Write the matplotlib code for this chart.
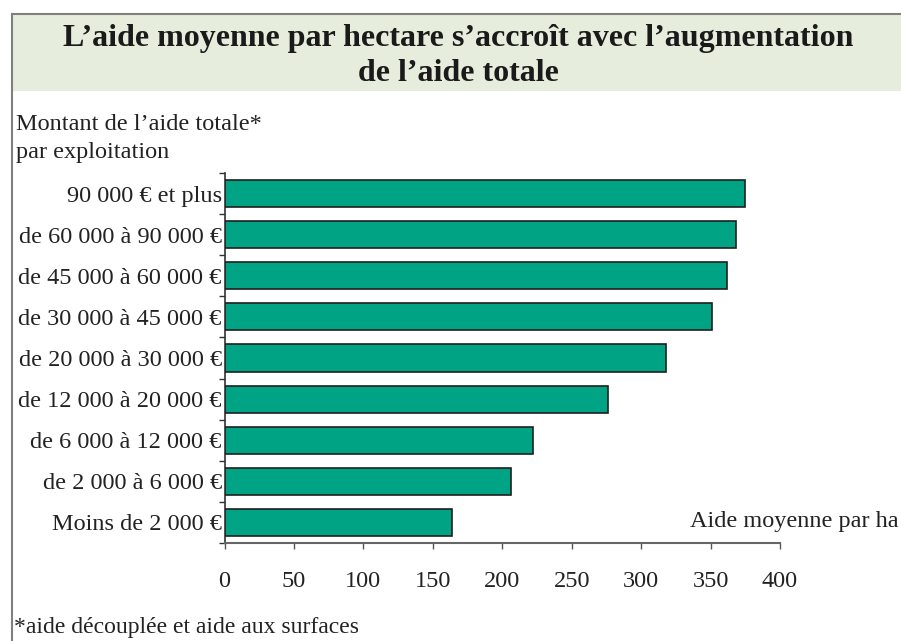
import matplotlib
matplotlib.use("Agg")
import matplotlib.pyplot as plt
from matplotlib.patches import Rectangle
from matplotlib.lines import Line2D

categories = [
    "90 000 € et plus",
    "de 60 000 à 90 000 €",
    "de 45 000 à 60 000 €",
    "de 30 000 à 45 000 €",
    "de 20 000 à 30 000 €",
    "de 12 000 à 20 000 €",
    "de 6 000 à 12 000 €",
    "de 2 000 à 6 000 €",
    "Moins de 2 000 €",
]
values = [375, 368, 362, 351, 318, 276, 222, 206, 164]
xticks = [0, 50, 100, 150, 200, 250, 300, 350, 400]

title = "L’aide moyenne par hectare s’accroît avec l’augmentation\nde l’aide totale"
ylabel_line1 = "Montant de l’aide totale*"
ylabel_line2 = "par exploitation"
xlabel_text = "Aide moyenne par ha"
footnote = "*aide découplée et aide aux surfaces"

plt.rcParams['font.family'] = ['Liberation Serif', 'DejaVu Serif']

W, H = 901, 641
fig = plt.figure(figsize=(W / 100, H / 100), dpi=100)
fig.patch.set_facecolor("white")

# Title box
fig.patches.append(Rectangle((12 / W, 1 - 91 / H), 1 - 12 / W, (91 - 14) / H,
                             transform=fig.transFigure, facecolor="#E6EDDC",
                             edgecolor="none", zorder=0))
fig.lines.append(Line2D([12 / W, 1], [1 - 14 / H, 1 - 14 / H], transform=fig.transFigure,
                        color="#808080", lw=1.5))
fig.lines.append(Line2D([12 / W, 12 / W], [0, 1 - 14 / H], transform=fig.transFigure,
                        color="#808080", lw=1.5))

fig.text(458 / W, 1 - 56 / H, title, ha="center", va="center", fontsize=23,
         fontweight="bold", color="#1a1a1a", linespacing=1.3)

TXT = 17.5
fig.text(16 / W, 1 - 124 / H, ylabel_line1, ha="left", va="center", fontsize=TXT,
         color="#222222")
fig.text(16 / W, 1 - 152 / H, ylabel_line2, ha="left", va="center", fontsize=TXT,
         color="#222222")
fig.text(14 / W, 1 - 627 / H, footnote, ha="left", va="center", fontsize=17,
         color="#222222")

left, right, top, bottom = 224.5, 780, 173, 543
ax = fig.add_axes([left / W, 1 - bottom / H, (right - left) / W, (bottom - top) / H])
n = len(categories)
pos = list(range(n))[::-1]
ax.barh(pos, values, height=0.66, color="#00A383", edgecolor="#1f1f1f", linewidth=1.2,
        zorder=3)
ax.set_xlim(0, 400)
ax.set_ylim(-0.5, n - 0.5)
ax.set_xticks(xticks)
ax.set_xticklabels([str(t) for t in xticks], fontsize=TXT, color="#222222")
ax.set_yticks(pos)
ax.set_yticklabels(categories, fontsize=TXT, color="#222222")
ax.tick_params(axis="y", length=0, pad=2)
ax.tick_params(axis="x", length=4, width=1, color="#555555", pad=16, direction="out")
ax.set_yticks([i - 0.5 for i in range(n + 1)], minor=True)
ax.tick_params(axis="y", which="minor", length=4, width=1, color="#333333")
for s in ["top", "right"]:
    ax.spines[s].set_visible(False)
ax.spines["left"].set_color("#333333")
ax.spines["bottom"].set_color("#666666")
ax.spines["left"].set_linewidth(1.2)
ax.spines["bottom"].set_linewidth(1.5)

fig.text(899 / W, 1 - 522 / H, xlabel_text, ha="right", va="center", fontsize=TXT,
         color="#222222")

fig.savefig("out.png", dpi=100, facecolor="white")
